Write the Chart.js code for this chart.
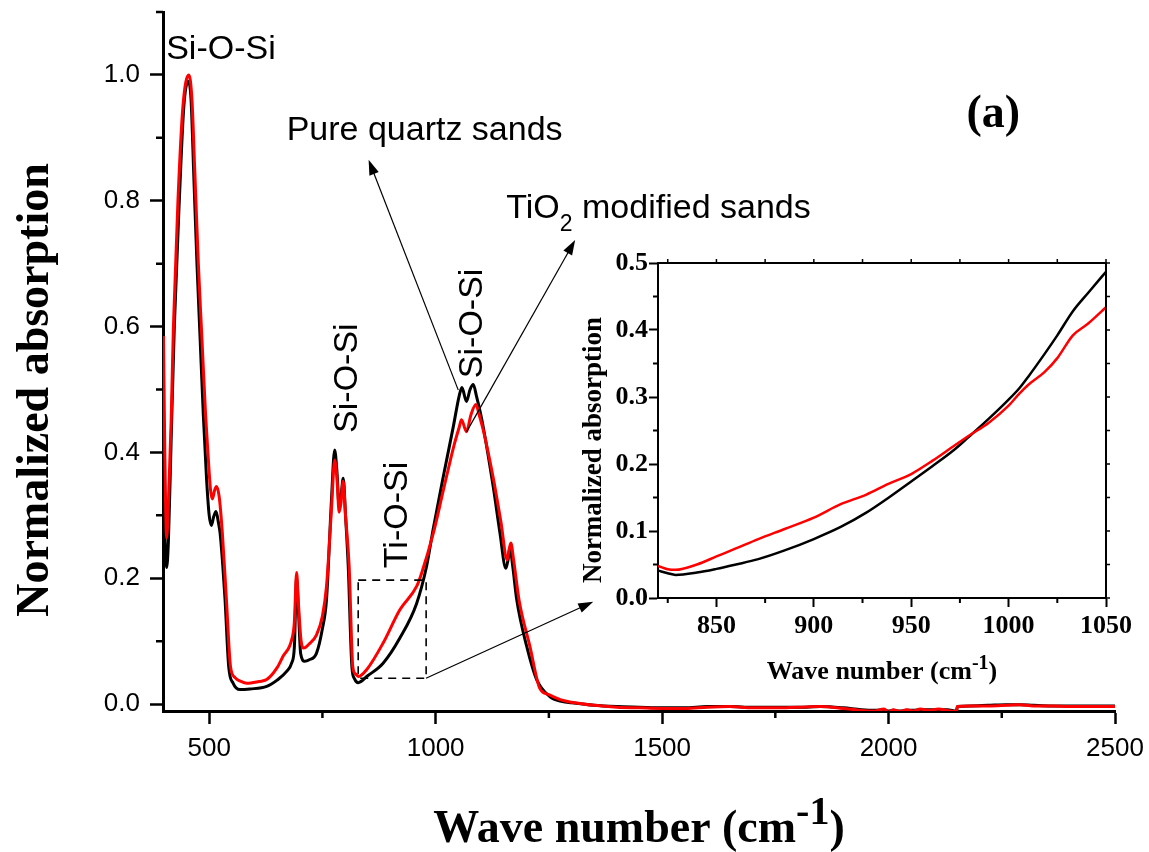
<!DOCTYPE html>
<html>
<head>
<meta charset="utf-8">
<script src="https://cdn.jsdelivr.net/npm/chart.js@4.4.0/dist/chart.umd.min.js"></script>
<style>
  body { margin: 0; background: #fff; }
  #grafico { position: absolute; left: 0; top: 0; }
  #inset { position: absolute; left: 560px; top: 245px; }
</style>
</head>
<body>
<canvas id="grafico" width="1149" height="852"></canvas>
<canvas id="inset" width="580" height="445"></canvas>
<script>
// espectro principal - quartzo puro (preto)
var pureWave = [399, 403, 406, 410, 416, 423, 434, 444, 454, 460, 466, 473, 480, 487, 494, 500, 505, 510, 515, 520, 524, 530, 535, 543, 553, 568, 590, 627, 650, 671, 682, 688, 693, 697, 702, 711, 720, 737, 750, 759, 770, 777, 782, 787, 791, 796, 801, 807, 815, 821, 829, 850, 884, 921, 958, 980, 995, 1017, 1039, 1052, 1058, 1068, 1076, 1083, 1090, 1102, 1127, 1142, 1155, 1160, 1164, 1170, 1179, 1201, 1223, 1252, 1280];
var pureAbs = [0.36, 0.25, 0.217, 0.26, 0.42, 0.60, 0.80, 0.95, 0.99, 0.96, 0.84, 0.70, 0.58, 0.46, 0.36, 0.30, 0.284, 0.298, 0.306, 0.29, 0.272, 0.22, 0.166, 0.06, 0.033, 0.023, 0.024, 0.028, 0.038, 0.052, 0.065, 0.09, 0.20, 0.15, 0.08, 0.068, 0.07, 0.081, 0.12, 0.166, 0.325, 0.404, 0.37, 0.314, 0.33, 0.359, 0.30, 0.219, 0.06, 0.04, 0.034, 0.045, 0.065, 0.105, 0.16, 0.219, 0.28, 0.362, 0.441, 0.49, 0.503, 0.481, 0.50, 0.508, 0.49, 0.452, 0.346, 0.272, 0.216, 0.23, 0.248, 0.22, 0.166, 0.092, 0.039, 0.012, 0.004];

// espectro principal - areia modificada com TiO2 (vermelho)
var tio2Wave = [399, 402, 406, 410, 416, 421, 431, 442, 455, 462, 468, 476, 484, 492, 498, 503, 507, 512, 516, 522, 529, 538, 547, 557, 570, 583, 610, 627, 650, 663, 682, 688, 693, 697, 703, 709, 720, 737, 750, 759, 770, 777, 782, 787, 791, 796, 801, 809, 817, 823, 830, 848, 884, 921, 958, 969, 995, 1017, 1030, 1042, 1052, 1057, 1068, 1078, 1089, 1096, 1105, 1127, 1144, 1158, 1162, 1166, 1172, 1184, 1208, 1230, 1250, 1275];
var tio2Abs = [0.585, 0.40, 0.264, 0.32, 0.45, 0.60, 0.80, 0.95, 1.0, 0.96, 0.85, 0.70, 0.58, 0.46, 0.39, 0.34, 0.326, 0.34, 0.346, 0.33, 0.272, 0.166, 0.06, 0.042, 0.036, 0.033, 0.036, 0.039, 0.058, 0.076, 0.102, 0.13, 0.209, 0.16, 0.10, 0.089, 0.095, 0.11, 0.14, 0.187, 0.31, 0.388, 0.36, 0.305, 0.32, 0.354, 0.30, 0.219, 0.06, 0.048, 0.044, 0.055, 0.097, 0.15, 0.187, 0.208, 0.272, 0.34, 0.38, 0.415, 0.44, 0.452, 0.433, 0.46, 0.476, 0.46, 0.436, 0.36, 0.29, 0.229, 0.245, 0.256, 0.23, 0.166, 0.092, 0.025, 0.015, 0.007];

// linha de base (1300 - 2500)
var tailWave = [1300, 1350, 1400, 1450, 1500, 1550, 1600, 1650, 1700, 1750, 1800, 1850, 1900, 1940, 1970, 1990, 2000, 2010, 2025, 2040, 2055, 2070, 2090, 2110, 2130, 2150, 2152, 2180, 2220, 2260, 2290, 2320, 2360, 2400, 2450, 2500];
var tailPure = [0.002, -0.002, -0.004, -0.005, -0.006, -0.006, -0.004, -0.004, -0.005, -0.005, -0.005, -0.004, -0.006, -0.009, -0.010, -0.009, -0.011, -0.010, -0.011, -0.010, -0.010, -0.009, -0.009, -0.009, -0.009, -0.011, -0.004, -0.003, -0.002, -0.001, -0.001, -0.002, -0.003, -0.003, -0.003, -0.003];
var tailTiO2 = [0.003, -0.002, -0.005, -0.006, -0.007, -0.007, -0.005, -0.004, -0.006, -0.006, -0.005, -0.004, -0.007, -0.010, -0.011, -0.008, -0.013, -0.009, -0.012, -0.009, -0.011, -0.008, -0.010, -0.008, -0.010, -0.012, -0.004, -0.003, -0.003, -0.002, -0.001, -0.003, -0.003, -0.004, -0.004, -0.004];

var xTicks = [500, 1000, 1500, 2000, 2500];
var xMinor = [750, 1250, 1750, 2250];
var yTicks = [0.0, 0.2, 0.4, 0.6, 0.8, 1.0];
var yMinor = [0.1, 0.3, 0.5, 0.7, 0.9, 1.1];

// grafico interno (zoom 820 - 1050)
var insetWave = [820, 825, 829, 840, 850, 860, 871.5, 885, 900, 913.8, 926.7, 938, 950, 961, 972.4, 979, 990, 1000, 1005.5, 1010, 1018.4, 1025, 1033, 1041, 1050];
var insetPure = [0.041, 0.037, 0.0345, 0.038, 0.0435, 0.050, 0.058, 0.071, 0.088, 0.106, 0.127, 0.149, 0.174, 0.197, 0.222, 0.239, 0.268, 0.296, 0.313, 0.330, 0.364, 0.392, 0.428, 0.456, 0.487];
var insetTiO2 = [0.048, 0.043, 0.042, 0.050, 0.062, 0.074, 0.088, 0.103, 0.120, 0.140, 0.154, 0.170, 0.185, 0.205, 0.228, 0.241, 0.262, 0.287, 0.305, 0.318, 0.337, 0.358, 0.392, 0.410, 0.434];
var insetXTicks = [850, 900, 950, 1000, 1050];
var insetXMinor = [825, 875, 925, 975, 1025];
var insetYTicks = [0.0, 0.1, 0.2, 0.3, 0.4, 0.5];
var insetYMinor = [0.05, 0.15, 0.25, 0.35, 0.45];

// anotacoes (em coordenadas dos dados)
var peakLabels = [
  { text: 'Si-O-Si', x: 526, y: 1.025, vertical: false },
  { text: 'Si-O-Si', x: 826, y: 0.431, vertical: true },
  { text: 'Ti-O-Si', x: 936, y: 0.216, vertical: true },
  { text: 'Si-O-Si', x: 1102, y: 0.518, vertical: true }
];
var pureLabelPos = [671, 0.8965];
var tio2LabelPos = [1156, 0.772];
var panelLabelPos = [2172, 0.917];
var arrows = [
  [1050, 0.499, 852, 0.865],
  [1068.6, 0.433, 1308, 0.7376],
  [978.7, 0.041, 1348, 0.1627]
];
var zoomBox = [829, 979, 0.041, 0.197];

function pares(xs, ys) {
  return xs.map(function(x, i) { return { x: x, y: ys[i] } });
}

function seta(ctx, x1, y1, x2, y2) {
  var ang = Math.atan2(y2 - y1, x2 - x1);
  var len = 15, half = 5;
  var c = Math.cos(ang), s = Math.sin(ang);
  ctx.beginPath();
  ctx.moveTo(x1, y1);
  ctx.lineTo(x2 - len * 0.8 * c, y2 - len * 0.8 * s);
  ctx.stroke();
  ctx.beginPath();
  ctx.moveTo(x2, y2);
  ctx.lineTo(x2 - len * c + half * s, y2 - len * s - half * c);
  ctx.lineTo(x2 - len * c - half * s, y2 - len * s + half * c);
  ctx.closePath();
  ctx.fill();
}

function tracinhos(ctx, scale, values, len, width, lado) {
  var area = scale.chart.chartArea;
  ctx.lineWidth = width;
  ctx.beginPath();
  values.forEach(function(v) {
    var p = scale.getPixelForValue(v);
    if (lado === 'bottom') { ctx.moveTo(p, area.bottom); ctx.lineTo(p, area.bottom + len); }
    if (lado === 'top') { ctx.moveTo(p, area.top); ctx.lineTo(p, area.top - len); }
    if (lado === 'left') { ctx.moveTo(area.left, p); ctx.lineTo(area.left - len, p); }
    if (lado === 'right') { ctx.moveTo(area.right, p); ctx.lineTo(area.right + len, p); }
  });
  ctx.stroke();
}

function tituloX(ctx, cx, baseY, size, supSize, raise) {
  var main = 'Wave number (cm', sup = '-1', end = ')';
  ctx.font = 'bold ' + size + 'px "Liberation Serif"';
  var w1 = ctx.measureText(main).width, w3 = ctx.measureText(end).width;
  ctx.font = 'bold ' + supSize + 'px "Liberation Serif"';
  var w2 = ctx.measureText(sup).width;
  var x = cx - (w1 + w2 + w3) / 2;
  ctx.textAlign = 'left';
  ctx.textBaseline = 'alphabetic';
  ctx.font = 'bold ' + size + 'px "Liberation Serif"';
  ctx.fillText(main, x, baseY);
  ctx.font = 'bold ' + supSize + 'px "Liberation Serif"';
  ctx.fillText(sup, x + w1, baseY - raise);
  ctx.font = 'bold ' + size + 'px "Liberation Serif"';
  ctx.fillText(end, x + w1 + w2, baseY);
}

function tituloY(ctx, baseX, cy, size) {
  ctx.save();
  ctx.translate(baseX, cy);
  ctx.rotate(-Math.PI / 2);
  ctx.font = 'bold ' + size + 'px "Liberation Serif"';
  ctx.textAlign = 'center';
  ctx.textBaseline = 'alphabetic';
  ctx.fillText('Normalized absorption', 0, 0);
  ctx.restore();
}

// tira o espaco extra que o Chart.js reserva para os rotulos
function semPadding(s) {
  s.paddingTop = 0; s.paddingBottom = 0; s.paddingLeft = 0; s.paddingRight = 0;
}

var decoracaoPrincipal = {
  id: 'decoracaoPrincipal',
  afterDraw: function(chart) {
    var ctx = chart.ctx, sx = chart.scales.x, sy = chart.scales.y;
    var area = chart.chartArea;
    ctx.save();
    ctx.strokeStyle = '#000';
    ctx.fillStyle = '#000';
    tracinhos(ctx, sx, xMinor, 7, 2.5, 'bottom');
    tracinhos(ctx, sy, yMinor, 7, 2.5, 'left');

    tituloX(ctx, (area.left + area.right) / 2, 842, 46, 40, 18);
    tituloY(ctx, 48, 390, 46);

    ctx.font = '34px "Liberation Sans"';
    ctx.textBaseline = 'alphabetic';
    peakLabels.forEach(function(l) {
      var px = sx.getPixelForValue(l.x), py = sy.getPixelForValue(l.y);
      if (l.vertical) {
        ctx.save();
        ctx.translate(px, py);
        ctx.rotate(-Math.PI / 2);
        ctx.textAlign = 'left';
        ctx.fillText(l.text, 0, 0);
        ctx.restore();
      } else {
        ctx.textAlign = 'center';
        ctx.fillText(l.text, px, py);
      }
    });

    ctx.textAlign = 'left';
    ctx.fillText('Pure quartz sands', sx.getPixelForValue(pureLabelPos[0]), sy.getPixelForValue(pureLabelPos[1]));

    var tx = sx.getPixelForValue(tio2LabelPos[0]), ty = sy.getPixelForValue(tio2LabelPos[1]);
    ctx.fillText('TiO', tx, ty);
    var wTi = ctx.measureText('TiO').width;
    ctx.font = '23px "Liberation Sans"';
    ctx.fillText('2', tx + wTi, ty + 13);
    var w2 = ctx.measureText('2').width;
    ctx.font = '34px "Liberation Sans"';
    ctx.fillText(' modified sands', tx + wTi + w2, ty);

    ctx.font = 'bold 46px "Liberation Serif"';
    ctx.fillText('(a)', sx.getPixelForValue(panelLabelPos[0]), sy.getPixelForValue(panelLabelPos[1]));

    ctx.lineWidth = 1.2;
    arrows.forEach(function(a) {
      seta(ctx, sx.getPixelForValue(a[0]), sy.getPixelForValue(a[1]), sx.getPixelForValue(a[2]), sy.getPixelForValue(a[3]));
    });

    ctx.lineWidth = 1.6;
    ctx.setLineDash([8, 6]);
    var bx1 = sx.getPixelForValue(zoomBox[0]), bx2 = sx.getPixelForValue(zoomBox[1]);
    var by1 = sy.getPixelForValue(zoomBox[3]), by2 = sy.getPixelForValue(zoomBox[2]);
    ctx.strokeRect(bx1, by1, bx2 - bx1, by2 - by1);
    ctx.restore();
  }
};

var decoracaoInset = {
  id: 'decoracaoInset',
  afterDraw: function(chart) {
    var ctx = chart.ctx, sx = chart.scales.x, sy = chart.scales.y;
    var area = chart.chartArea;
    ctx.save();
    ctx.strokeStyle = '#000';
    ctx.fillStyle = '#000';
    ctx.lineWidth = 2;
    ctx.beginPath();
    ctx.moveTo(area.left, area.top);
    ctx.lineTo(area.right, area.top);
    ctx.lineTo(area.right, area.bottom);
    ctx.stroke();
    tracinhos(ctx, sx, insetXMinor, 5, 2, 'bottom');
    tracinhos(ctx, sy, insetYMinor, 5, 2, 'left');
    tracinhos(ctx, sx, insetXTicks.concat(insetXMinor), 4, 1.5, 'top');
    tracinhos(ctx, sy, insetYTicks.concat(insetYMinor), 4, 1.5, 'right');

    tituloX(ctx, (area.left + area.right) / 2, 434, 26, 20, 10);
    tituloY(ctx, 41, 205, 27);
    ctx.restore();
  }
};

var principal = new Chart(document.getElementById('grafico'), {
  type: 'line',
  data: {
    datasets: [
      { label: 'TiO2 modified sands', data: pares(tio2Wave.concat(tailWave), tio2Abs.concat(tailTiO2)), borderColor: '#ff0000', borderWidth: 3, pointRadius: 0, cubicInterpolationMode: 'monotone', order: 0 },
      { label: 'Pure quartz sands', data: pares(pureWave.concat(tailWave), pureAbs.concat(tailPure)), borderColor: '#000000', borderWidth: 3, pointRadius: 0, cubicInterpolationMode: 'monotone', order: 1 }
    ]
  },
  options: {
    responsive: false,
    animation: false,
    devicePixelRatio: 1,
    layout: { padding: { left: 0, top: 12, right: 34, bottom: 0 } },
    plugins: { legend: { display: false }, tooltip: { enabled: false } },
    scales: {
      x: {
        type: 'linear', min: 398, max: 2500,
        afterBuildTicks: function(s) { s.ticks = xTicks.map(function(v) { return { value: v } }) },
        afterFit: function(s) { s.height = 141; semPadding(s) },
        grid: { drawOnChartArea: false, tickLength: 13, tickWidth: 2.5, tickColor: '#000' },
        border: { color: '#000', width: 3 },
        ticks: { color: '#000', font: { family: 'Liberation Sans', size: 26 }, padding: 9, maxRotation: 0, autoSkip: false, callback: function(v) { return String(v) } }
      },
      y: {
        type: 'linear', min: -0.011, max: 1.1,
        afterBuildTicks: function(s) { s.ticks = yTicks.map(function(v) { return { value: v } }) },
        afterFit: function(s) { s.width = 163; semPadding(s) },
        grid: { drawOnChartArea: false, tickLength: 13, tickWidth: 2.5, tickColor: '#000' },
        border: { color: '#000', width: 3 },
        ticks: { color: '#000', font: { family: 'Liberation Sans', size: 26 }, padding: 10, callback: function(v) { return v.toFixed(1) } }
      }
    }
  },
  plugins: [decoracaoPrincipal]
});

var interno = new Chart(document.getElementById('inset'), {
  type: 'line',
  data: {
    datasets: [
      { label: 'TiO2 modified sands', data: pares(insetWave, insetTiO2), borderColor: '#ff0000', borderWidth: 2.5, pointRadius: 0, cubicInterpolationMode: 'monotone', order: 0 },
      { label: 'Pure quartz sands', data: pares(insetWave, insetPure), borderColor: '#000000', borderWidth: 2.5, pointRadius: 0, cubicInterpolationMode: 'monotone', order: 1 }
    ]
  },
  options: {
    responsive: false,
    animation: false,
    devicePixelRatio: 1,
    layout: { padding: { left: 0, top: 18, right: 34, bottom: 0 } },
    plugins: { legend: { display: false }, tooltip: { enabled: false } },
    scales: {
      x: {
        type: 'linear', min: 820, max: 1050,
        afterBuildTicks: function(s) { s.ticks = insetXTicks.map(function(v) { return { value: v } }) },
        afterFit: function(s) { s.height = 92; semPadding(s) },
        grid: { drawOnChartArea: false, tickLength: 9, tickWidth: 2, tickColor: '#000' },
        border: { color: '#000', width: 2 },
        ticks: { color: '#000', font: { family: 'Liberation Serif', weight: 'bold', size: 26 }, padding: 4, maxRotation: 0, autoSkip: false, callback: function(v) { return String(v) } }
      },
      y: {
        type: 'linear', min: 0, max: 0.5,
        afterBuildTicks: function(s) { s.ticks = insetYTicks.map(function(v) { return { value: v } }) },
        afterFit: function(s) { s.width = 98; semPadding(s) },
        grid: { drawOnChartArea: false, tickLength: 9, tickWidth: 2, tickColor: '#000' },
        border: { color: '#000', width: 2 },
        ticks: { color: '#000', font: { family: 'Liberation Serif', weight: 'bold', size: 26 }, padding: 1, callback: function(v) { return v.toFixed(1) } }
      }
    }
  },
  plugins: [decoracaoInset]
});
</script>
</body>
</html>
